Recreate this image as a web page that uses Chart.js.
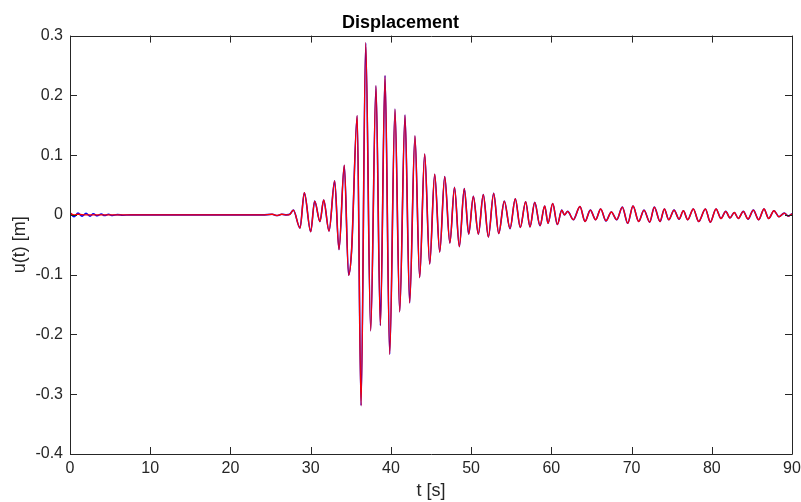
<!DOCTYPE html>
<html>
<head>
<meta charset="utf-8">
<script src="https://cdn.jsdelivr.net/npm/chart.js@4/dist/chart.umd.min.js"></script>
<style>
    html, body { margin: 0; padding: 0; background: #fff; }
</style>
</head>
<body>
<canvas id="chart" width="801" height="502"></canvas>
<script>
// red trace: extrema (t in s, u in m)
const timeRed = [
    0, 0.5, 1.0, 2, 5, 10, 15, 20, 24, 25.2, 25.8, 26.4, 27.0, 27.4,
    27.84, 28.67, 29.21, 30.0, 30.5, 31.16, 31.62, 32.29, 32.99, 33.53, 34.19, 34.73, 35.1, 35.8,
    36.28, 36.86, 37.48, 38.14, 38.69, 39.27, 39.85, 40.51, 41.1, 41.76, 42.34, 43.0, 43.59, 44.21,
    44.84, 45.46, 46.09, 46.71, 47.35, 47.93, 48.53, 49.15, 49.7, 50.28, 50.9, 51.52, 52.15, 52.81,
    53.44, 54.14, 54.85, 55.51, 56.13, 56.8, 57.34, 57.93, 58.59, 59.17, 59.59, 60.17, 60.75, 61.3,
    61.63, 62.04, 62.74, 63.57, 64.2, 64.86, 65.53, 66.15, 66.81, 67.48, 68.15, 68.85, 69.52, 70.18,
    70.89, 71.55, 72.26, 72.84, 73.55, 74.09, 74.63, 75.3, 75.92, 76.46, 77.0, 77.7, 78.37, 79.2,
    79.82, 80.53, 81.15, 81.74, 82.27, 82.81, 83.31, 83.93, 84.52, 85.18, 85.85, 86.51, 87.09, 87.75,
    88.37, 89.04, 89.54, 90
]
const dispRed = [
    0.003, 0.0, 0.001, 0.0, 0.0, 0.0, 0.0, 0.0, 0.0, 0.001, -0.001, 0.001, 0.0, 0.001,
    0.008, -0.022, 0.037, -0.028, 0.023, -0.011, 0.025, -0.027, 0.057, -0.058, 0.083, -0.101, -0.06, 0.166,
    -0.319, 0.288, -0.194, 0.216, -0.185, 0.233, -0.233, 0.177, -0.162, 0.167, -0.147, 0.132, -0.105, 0.102,
    -0.082, 0.068, -0.062, 0.064, -0.047, 0.046, -0.053, 0.044, -0.032, 0.031, -0.032, 0.034, -0.037, 0.036,
    -0.031, 0.023, -0.023, 0.027, -0.021, 0.022, -0.020, 0.021, -0.018, 0.015, -0.014, 0.019, -0.016, 0.008,
    0.0, 0.006, -0.008, 0.014, -0.011, 0.008, -0.008, 0.010, -0.010, 0.005, -0.008, 0.013, -0.014, 0.015,
    -0.011, 0.008, -0.012, 0.013, -0.011, 0.010, -0.008, 0.008, -0.007, 0.007, -0.008, 0.010, -0.011, 0.010,
    -0.012, 0.010, -0.006, 0.006, -0.005, 0.004, -0.006, 0.006, -0.007, 0.008, -0.008, 0.010, -0.006, 0.007,
    -0.003, 0.003, -0.002, 0.002
]

// blue trace: only the start differs visibly, the rest sits under the red one
const timeBlueStart = [0, 0.5, 1.0, 1.5, 2.0, 2.5, 2.9, 3.4, 3.9, 4.3, 4.8, 5.3, 5.9, 6.6, 7.5]
const dispBlueStart = [0.004, -0.003, 0.003, -0.002, 0.0025, -0.002, 0.002, -0.0015, 0.0015, -0.001, 0.001, -0.001, 0.0005, -0.0005, 0.0]

const xTicks = [0, 10, 20, 30, 40, 50, 60, 70, 80, 90]
const yTicks = [-0.4, -0.3, -0.2, -0.1, 0, 0.1, 0.2, 0.3]

const FONT = "'Liberation Sans', Arial, Helvetica, sans-serif"
const AXIS_COLOR = '#262626'

const redPoints = timeRed.map((t, i) => ({ x: t, y: dispRed[i] }))
const bluePoints = timeBlueStart.map((t, i) => ({ x: t, y: dispBlueStart[i] }))
    .concat(redPoints.filter(p => p.x > 8))

// MATLAB-like box with inward ticks on all four sides
const boxPlugin = {
    id: 'box',
    afterDraw(chart) {
        const { ctx, chartArea: a, scales: { x, y } } = chart
        const len = 7
        ctx.save()
        ctx.strokeStyle = AXIS_COLOR
        ctx.lineWidth = 1
        ctx.beginPath()
        ctx.rect(Math.round(a.left) + 0.5, Math.round(a.top) + 0.5, Math.round(a.right - a.left), Math.round(a.bottom - a.top))
        xTicks.forEach(v => {
            const px = Math.round(x.getPixelForValue(v)) + 0.5
            ctx.moveTo(px, a.bottom); ctx.lineTo(px, a.bottom - len)
            ctx.moveTo(px, a.top); ctx.lineTo(px, a.top + len)
        })
        yTicks.forEach(v => {
            const py = Math.round(y.getPixelForValue(v)) + 0.5
            ctx.moveTo(a.left, py); ctx.lineTo(a.left + len, py)
            ctx.moveTo(a.right, py); ctx.lineTo(a.right - len, py)
        })
        ctx.stroke()
        ctx.restore()
    }
}

new Chart(document.getElementById('chart'), {
    type: 'line',
    data: {
        datasets: [
            {
                label: 'red',
                data: redPoints,
                borderColor: '#ff0000',
                borderWidth: 1.4,
                pointRadius: 0,
                cubicInterpolationMode: 'monotone',
            },
            {
                label: 'blue',
                data: bluePoints,
                borderColor: '#0000ff',
                borderWidth: 1.6,
                pointRadius: 0,
                cubicInterpolationMode: 'monotone',
            },
        ]
    },
    options: {
        responsive: false,
        animation: false,
        layout: { padding: { left: 0, right: 0, top: 0, bottom: 0 } },
        plugins: {
            legend: { display: false },
            tooltip: { enabled: false },
            title: {
                display: true,
                text: 'Displacement',
                color: '#000',
                font: { family: FONT, size: 18, weight: 'bold' },
                padding: { top: 12, bottom: 2 },
            },
        },
        scales: {
            x: {
                type: 'linear',
                min: 0,
                max: 90,
                afterFit: s => { s.height = 48; s.paddingLeft = 0; s.paddingRight = 9 },
                afterBuildTicks: s => { s.ticks = xTicks.map(v => ({ value: v })) },
                grid: { display: false, drawTicks: false },
                border: { display: false },
                ticks: {
                    color: AXIS_COLOR,
                    padding: 5,
                    maxRotation: 0,
                    font: { family: FONT, size: 16 },
                    callback: v => String(v),
                },
                title: {
                    display: true,
                    text: 't [s]',
                    color: AXIS_COLOR,
                    font: { family: FONT, size: 18 },
                    padding: { top: 0, bottom: 0 },
                },
            },
            y: {
                min: -0.4,
                max: 0.3,
                afterFit: s => { s.width = 70 },
                afterBuildTicks: s => { s.ticks = yTicks.map(v => ({ value: v })) },
                grid: { display: false, drawTicks: false },
                border: { display: false },
                ticks: {
                    color: AXIS_COLOR,
                    padding: 7,
                    font: { family: FONT, size: 16 },
                    callback: v => String(Number(v.toFixed(1))),
                },
                title: {
                    display: true,
                    text: 'u(t) [m]',
                    color: AXIS_COLOR,
                    font: { family: FONT, size: 18 },
                    padding: { top: 9, bottom: 0 },
                },
            },
        },
    },
    plugins: [boxPlugin],
})
</script>
</body>
</html>
